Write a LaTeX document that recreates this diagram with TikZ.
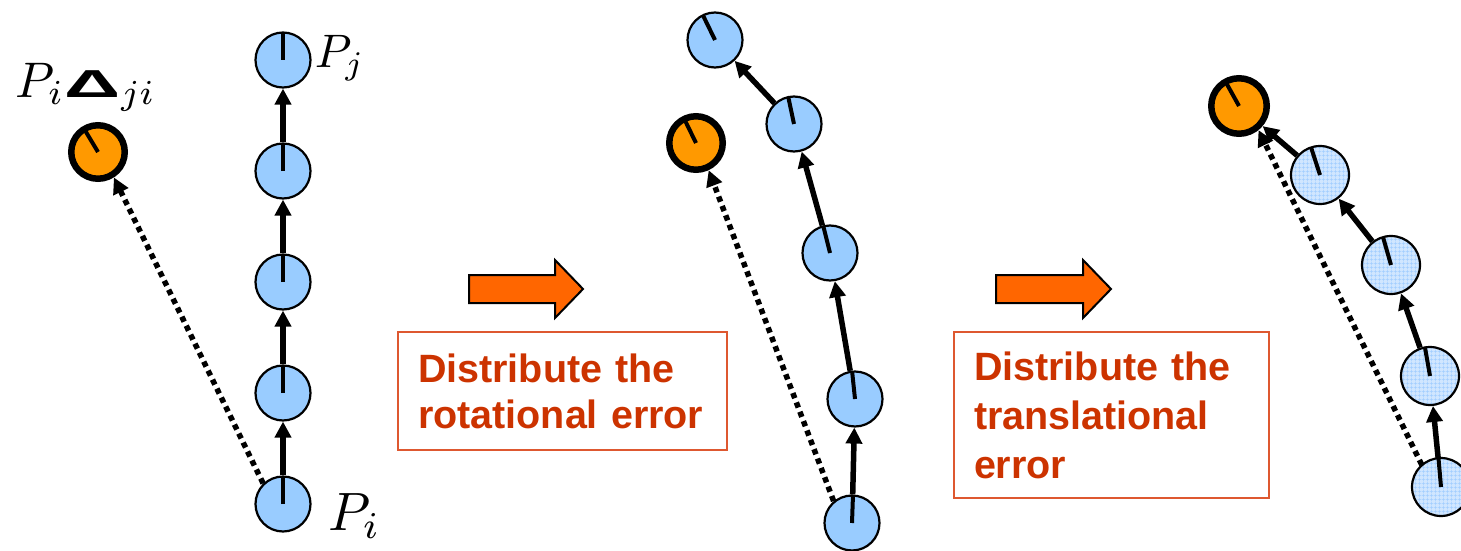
\documentclass[tikz,border=0pt]{standalone}
\usepackage{fontspec}
\usetikzlibrary{arrows.meta,patterns.meta}
\newfontfamily\capfont{Liberation Sans}

\definecolor{poseblue}{RGB}{153,204,255}
\definecolor{paleblue}{RGB}{208,230,255}
\definecolor{gridblue}{RGB}{160,205,255}
\definecolor{poseorange}{RGB}{255,153,0}
\definecolor{steporange}{RGB}{255,102,0}
\definecolor{captionred}{RGB}{204,51,0}
\definecolor{boxline}{RGB}{222,88,48}

\tikzset{
  pose/.style={circle, draw=black, line width=2.2pt, fill=poseblue,
    minimum size=55pt, inner sep=0pt},
  posegrid/.style={circle, draw=black, line width=2.2pt,
    preaction={fill=paleblue},
    pattern={Hatch[angle=0,distance=4pt,line width=0.5pt]}, pattern color=gridblue,
    minimum size=58pt, inner sep=0pt},
  goal/.style={circle, draw=black, line width=6.5pt, fill=poseorange,
    minimum size=53.5pt, inner sep=0pt},
  heading/.style={line width=4pt},
  link/.style={line width=5.5pt, -{Triangle[length=16pt,width=16pt]}},
  closure/.style={line width=5.5pt, dash pattern=on 5.5pt off 4.5pt,
    -{Triangle[length=16pt,width=16pt]}},
  bigarrow/.style={draw=black, line width=2pt, fill=steporange, line join=miter},
  caption/.style={draw=boxline, line width=2pt, anchor=north west,
    inner xsep=20pt, inner ysep=0pt, align=left,
    text=captionred, font=\capfont\bfseries\fontsize{39.5}{46}\selectfont},
  mathlabel/.style={anchor=base west, inner sep=0pt}
}

\begin{document}
\begin{tikzpicture}[x=1pt,y=-1pt]
\useasboundingbox (0,0) rectangle (1461,551);
\clip (0,0) rectangle (1461,551);

% ---------- initial chain: straight odometry ----------
\node[pose] (a1) at (283,504) {};
\node[pose] (a2) at (283,393) {};
\node[pose] (a3) at (283,282) {};
\node[pose] (a4) at (283,171) {};
\node[pose] (a5) at (283,60) {};
\node[goal] (ag) at (98,152) {};
\foreach \n in {a1,a2,a3,a4,a5}
  \draw[heading] (\n.center) -- ++(90:28pt);
\draw[heading] (ag.center) -- ++(121:24pt);
\draw[link] (a1) -- (a2);
\draw[link] (a2) -- (a3);
\draw[link] (a3) -- (a4);
\draw[link] (a4) -- (a5);
\draw[closure] (a1.134) -- (ag.-58);

\node[mathlabel, scale=4.7] (lj) at (314,67) {$P_j$};
\node[mathlabel, scale=5.4] (li) at (327,530) {$P_i$};
\node[mathlabel, scale=5.0] (lg) at (15,97)
  {$P_i{\mbox{\scalebox{2.0}[1]{\capfont\bfseries\fontsize{7.8}{7.8}\selectfont Δ}}}_{ji}$};

% ---------- step arrows and captions ----------
\draw[bigarrow] (469,275) -- (555,275) -- (555,260) -- (583,289)
  -- (555,318) -- (555,303) -- (469,303) -- cycle;
\draw[bigarrow] (996,275) -- (1083,275) -- (1083,260) -- (1111,289)
  -- (1083,318) -- (1083,303) -- (996,303) -- cycle;

\node[caption, minimum width=329pt, minimum height=118pt, text width=289pt]
  (c1) at (397,331) {Distribute the\\rotational error};
\node[caption, minimum width=315pt, minimum height=166pt, text width=275pt,
  font=\capfont\bfseries\fontsize{39.5}{49}\selectfont]
  (c2) at (953,331) {Distribute the\\translational\\error};

% ---------- after distributing the rotational error ----------
\node[pose] (m1) at (852,523) {};
\node[pose] (m2) at (855,399) {};
\node[pose] (m3) at (830,253) {};
\node[pose] (m4) at (794,124) {};
\node[pose] (m5) at (715,40) {};
\node[goal] (mg) at (696,143) {};
\draw[heading] (m1.center) -- ++(88:28pt);
\draw[heading] (m2.center) -- ++(96:28pt);
\draw[heading] (m3.center) -- ++(104:28pt);
\draw[heading] (m4.center) -- ++(102:28pt);
\draw[heading] (m5.center) -- ++(116:28pt);
\draw[heading] (mg.center) -- ++(116:24pt);
\draw[link] (m1) -- (m2);
\draw[link] (m2) -- (m3);
\draw[link] (m3) -- (m4);
\draw[link] (m4) -- (m5);
\draw[closure] (m1.130) -- (mg.-65);

% ---------- after distributing the translational error ----------
\node[posegrid] (r1) at (1441,487) {};
\node[posegrid] (r2) at (1430,376) {};
\node[posegrid] (r3) at (1391,265) {};
\node[posegrid] (r4) at (1320,175) {};
\node[goal, minimum size=55.5pt] (rg) at (1239,106) {};
\draw[heading] (r1.center) -- ++(95:29.5pt);
\draw[heading] (r2.center) -- ++(100:29.5pt);
\draw[heading] (r3.center) -- ++(106:29.5pt);
\draw[heading] (r4.center) -- ++(108:29.5pt);
\draw[heading] (rg.center) -- ++(119:25pt);
\draw[link] (r1) -- (r2);
\draw[link] (r2) -- (r3);
\draw[link] (r3) -- (r4);
\draw[link] (r4) -- (rg);
\draw[closure] (r1.131) -- (rg.-51);
\end{tikzpicture}
\end{document}
